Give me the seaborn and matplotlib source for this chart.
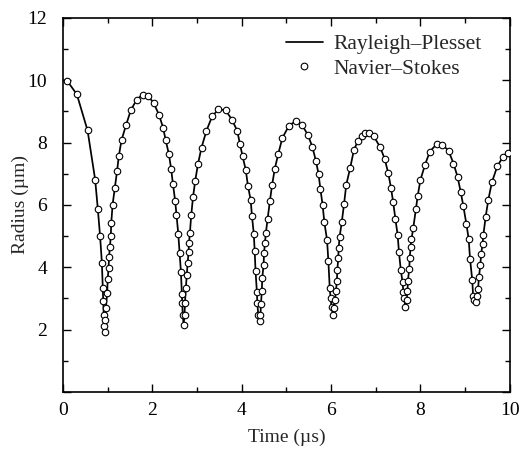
import numpy as np
import pandas as pd
import matplotlib
matplotlib.use("Agg")
import matplotlib.pyplot as plt
from matplotlib.lines import Line2D
from matplotlib.legend_handler import HandlerLine2D
from matplotlib.ticker import MultipleLocator
import seaborn as sns

# Navier-Stokes markers (time in us, radius in um)
ns_time = [
    0.09, 0.31, 0.55, 0.72, 0.78, 0.83, 0.87, 0.89, 0.90, 0.91, 0.92, 0.93,
    0.95, 0.96, 0.99, 1.00, 1.02, 1.03, 1.05, 1.07, 1.08, 1.11, 1.16, 1.21,
    1.25, 1.31, 1.41, 1.52, 1.65, 1.78, 1.90, 2.03, 2.15, 2.24, 2.30, 2.37,
    2.42, 2.46, 2.51, 2.54, 2.58, 2.61, 2.64, 2.66, 2.67, 2.68, 2.70, 2.72,
    2.73, 2.75, 2.77, 2.79, 2.81, 2.82, 2.84, 2.87, 2.91, 2.96, 3.02, 3.10,
    3.21, 3.34, 3.48, 3.64, 3.78, 3.90, 3.96, 4.02, 4.09, 4.14, 4.20, 4.23,
    4.27, 4.29, 4.31, 4.34, 4.35, 4.37, 4.40, 4.42, 4.43, 4.45, 4.46, 4.49,
    4.50, 4.52, 4.54, 4.58, 4.63, 4.68, 4.74, 4.82, 4.91, 5.06, 5.21, 5.35,
    5.48, 5.58, 5.66, 5.72, 5.76, 5.81, 5.85, 5.91, 5.94, 5.97, 5.99, 6.01,
    6.04, 6.07, 6.09, 6.11, 6.13, 6.14, 6.16, 6.17, 6.19, 6.24, 6.29, 6.34,
    6.43, 6.51, 6.60, 6.69, 6.77, 6.86, 6.95, 7.10, 7.20, 7.28, 7.34, 7.39,
    7.44, 7.49, 7.52, 7.56, 7.60, 7.62, 7.64, 7.66, 7.69, 7.71, 7.72, 7.75,
    7.76, 7.78, 7.80, 7.84, 7.90, 7.94, 8.00, 8.10, 8.21, 8.36, 8.49, 8.63,
    8.74, 8.83, 8.90, 8.96, 9.03, 9.08, 9.11, 9.16, 9.18, 9.21, 9.24, 9.27,
    9.29, 9.31, 9.34, 9.36, 9.39, 9.41, 9.46, 9.52, 9.60, 9.72, 9.85, 9.97,
]
ns_radius = [
    9.99, 9.55, 8.39, 6.81, 5.86, 5.00, 4.15, 3.35, 2.93, 2.48, 2.13, 1.91,
    2.32, 2.70, 3.18, 3.61, 3.99, 4.32, 4.65, 5.00, 5.42, 6.01, 6.56, 7.09,
    7.58, 8.08, 8.56, 9.05, 9.38, 9.54, 9.51, 9.27, 8.89, 8.48, 8.07, 7.63,
    7.16, 6.68, 6.14, 5.67, 5.08, 4.46, 3.84, 3.14, 2.86, 2.47, 2.16, 2.47,
    2.86, 3.35, 3.76, 4.14, 4.48, 4.79, 5.10, 5.67, 6.25, 6.78, 7.31, 7.84,
    8.38, 8.85, 9.07, 9.04, 8.74, 8.38, 7.96, 7.56, 7.13, 6.61, 6.16, 5.64,
    5.08, 4.53, 3.87, 3.20, 2.84, 2.47, 2.29, 2.47, 2.82, 3.23, 3.66, 4.08,
    4.46, 4.78, 5.10, 5.56, 6.12, 6.64, 7.16, 7.65, 8.15, 8.55, 8.69, 8.57,
    8.25, 7.87, 7.42, 6.99, 6.52, 6.01, 5.44, 4.88, 4.19, 3.33, 3.00, 2.74,
    2.47, 2.69, 2.96, 3.25, 3.57, 3.90, 4.29, 4.62, 4.96, 5.46, 6.02, 6.65,
    7.20, 7.76, 8.05, 8.20, 8.30, 8.32, 8.22, 7.85, 7.48, 7.02, 6.56, 6.09,
    5.55, 5.04, 4.48, 3.92, 3.52, 3.20, 3.00, 2.72, 2.95, 3.23, 3.57, 3.95,
    4.30, 4.64, 4.91, 5.26, 5.87, 6.30, 6.80, 7.28, 7.71, 7.95, 7.94, 7.74,
    7.33, 6.91, 6.43, 5.97, 5.38, 4.91, 4.28, 3.59, 3.07, 2.94, 2.88, 3.07,
    3.30, 3.68, 4.07, 4.43, 4.75, 5.05, 5.62, 6.17, 6.73, 7.24, 7.55, 7.66,
]

# Rayleigh-Plesset curve end points (the curve runs through the markers)
rp_start = (0.0, 10.0)
rp_end = (10.0, 7.68)

ns = pd.DataFrame({"time": ns_time, "radius": ns_radius})
rp = pd.DataFrame({
    "time": [rp_start[0]] + ns_time + [rp_end[0]],
    "radius": [rp_start[1]] + ns_radius + [rp_end[1]],
})


class RightMarker(HandlerLine2D):
    # put the single legend marker near the right end of the handle
    def get_xdata(self, legend, xdescent, ydescent, width, height, fontsize):
        xdata = [-xdescent, -xdescent + width]
        return xdata, [-xdescent + 0.92 * width]


sns.set_theme(style="ticks")
plt.rcParams["font.family"] = ["Liberation Serif", "DejaVu Serif"]

fig = plt.figure(figsize=(5.25, 4.5), dpi=100)
ax = fig.add_axes([0.12, 0.129, 0.851, 0.831])

sns.lineplot(data=rp, x="time", y="radius", sort=False, estimator=None,
             color="black", linewidth=1.25, ax=ax, legend=False, zorder=2)
sns.scatterplot(data=ns, x="time", y="radius", marker="o", s=22,
                facecolor="white", edgecolor="black", linewidth=0.8,
                ax=ax, legend=False, zorder=3)

ax.set_xlim(0, 10)
ax.set_ylim(0, 12)
ax.set_xticks(range(0, 11, 2))
ax.set_yticks(range(0, 13, 2))
ax.set_yticklabels([""] + [str(v) for v in range(2, 13, 2)])
ax.xaxis.set_minor_locator(MultipleLocator(1))
ax.yaxis.set_minor_locator(MultipleLocator(1))
ax.tick_params(which="both", direction="in", top=True, right=True,
               width=1.0, colors="black", labelsize=14, pad=7)
ax.tick_params(axis="y", which="both", pad=11.5)
ax.tick_params(which="major", length=6)
ax.tick_params(which="minor", length=3.5)
for sp in ax.spines.values():
    sp.set_linewidth(1.2)
    sp.set_color("black")

ax.set_xlabel("Time (\u00b5s)", fontsize=14, labelpad=7.5)
ax.set_ylabel("Radius (\u00b5m)", fontsize=14, labelpad=-1)

h_rp = Line2D([], [], color="black", linewidth=1.25)
h_ns = Line2D([], [], linestyle="none", marker="o", markersize=4.8,
              markerfacecolor="white", markeredgecolor="black",
              markeredgewidth=0.8)
ax.legend([h_rp, h_ns], ["Rayleigh\u2013Plesset", "Navier\u2013Stokes"],
          handler_map={h_ns: RightMarker()},
          loc="upper right", bbox_to_anchor=(0.957, 0.98), borderaxespad=0,
          frameon=False, fontsize=15.5, handlelength=1.72,
          handletextpad=0.5, labelspacing=0.2)

fig.savefig("out.png", dpi=100)
